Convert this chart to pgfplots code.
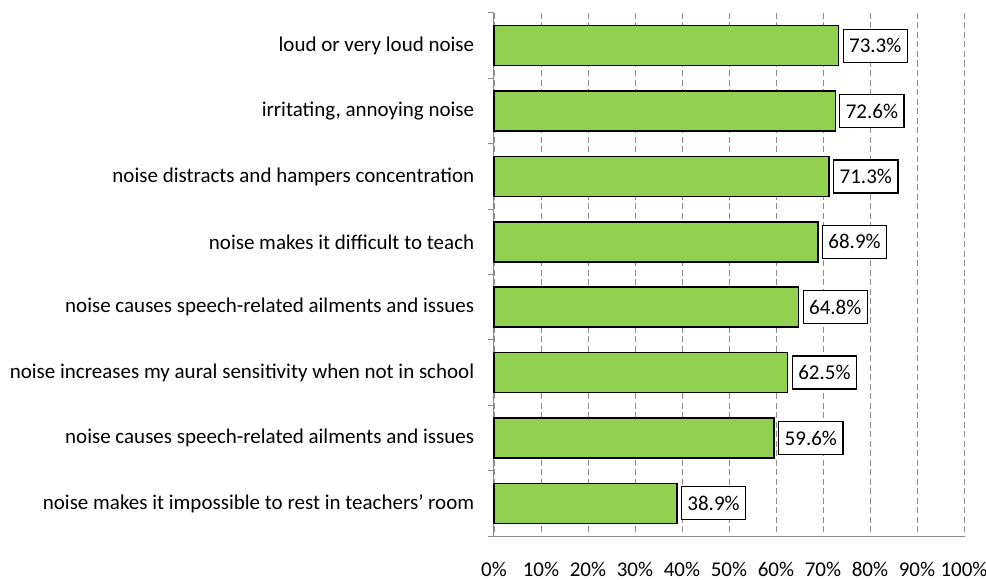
\documentclass[border=0pt]{standalone}
\usepackage{pgfplots}
\pgfplotsset{compat=1.18}
\usepackage{fontspec}
\setmainfont{Carlito}
\definecolor{bargreen}{HTML}{92D050}
\definecolor{axgray}{HTML}{8C8C8C}
\begin{document}
\begin{tikzpicture}[x=1pt,y=1pt]
\begin{axis}[
  scale only axis,
  width=470pt, height=523pt,
  xmin=0, xmax=100,
  ymin=-0.5, ymax=7.5,
  y dir=reverse,
  xbar, bar width=40pt,
  axis x line*=bottom,
  axis y line*=left,
  axis line style={axgray, line width=1pt},
  xtick={0,10,...,100},
  xticklabel={\pgfmathprintnumber{\tick}\%},
  xticklabel style={yshift=-18pt},
  major x tick style={draw=none},
  xmajorgrids,
  grid style={axgray, dash pattern=on 6pt off 3.5pt, line width=0.9pt},
  ytick={0,...,7},
  yticklabels={loud or very loud noise\ ,
               {irritating, annoying noise},
               noise distracts and hampers concentration,
               noise makes it difficult to teach,
               noise causes speech-related ailments and issues,
               noise increases my aural sensitivity when not in school,
               noise causes speech-related ailments and issues,
               noise makes it impossible to rest in teachers’ room},
  major y tick style={draw=none},
  minor ytick={-0.5,0.5,...,7.5},
  minor tick length=6pt,
  tick align=outside,
  minor y tick style={axgray, line width=1pt},
  yticklabel style={xshift=-12pt},
  tick label style={font=\fontsize{21}{24}\selectfont, black},
  /pgf/number format/assume math mode=true,
  nodes near coords={\pgfmathprintnumber[fixed,precision=1,fixed zerofill]{\pgfplotspointmeta}\%},
  every node near coord/.append style={font=\fontsize{21}{24}\selectfont, black, draw=black, fill=white, line width=1.2pt, anchor=west, xshift=4pt, inner xsep=6pt, minimum height=33pt},
  clip=false,
]
\addplot[fill=bargreen, draw=black, line width=1.4pt] coordinates {
  (73.3,0) (72.6,1) (71.3,2) (68.9,3) (64.8,4) (62.5,5) (59.6,6) (38.9,7)
};
\end{axis}
\pgfresetboundingbox
\path ([shift={(-494pt,13pt)}]current axis.north west) rectangle ([shift={(22pt,-44pt)}]current axis.south east);
\end{tikzpicture}
\end{document}
